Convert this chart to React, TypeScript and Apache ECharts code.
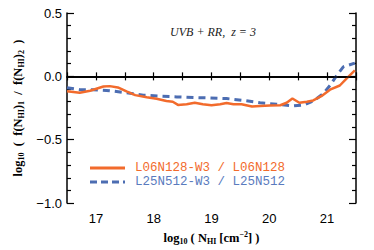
import React, { useEffect, useRef } from "react";
import * as echarts from "echarts";

const orangeX = [16.5, 16.72, 16.9, 17.13, 17.24, 17.38, 17.53, 17.68, 17.88, 18.05, 18.22, 18.33, 18.42, 18.57, 18.71, 18.85, 19.0, 19.15, 19.26, 19.38, 19.52, 19.7, 19.84, 20.01, 20.19, 20.3, 20.4, 20.52, 20.65, 20.76, 20.9, 21.05, 21.22, 21.34, 21.48];
const orangeY = [-0.118, -0.13, -0.113, -0.08, -0.077, -0.087, -0.118, -0.148, -0.164, -0.177, -0.195, -0.2, -0.225, -0.22, -0.208, -0.22, -0.228, -0.22, -0.21, -0.22, -0.22, -0.238, -0.233, -0.23, -0.228, -0.208, -0.175, -0.208, -0.2, -0.19, -0.156, -0.105, -0.072, -0.015, 0.048];

const blueX = [16.5, 16.72, 16.95, 17.24, 17.53, 17.82, 18.11, 18.4, 18.69, 18.97, 19.26, 19.55, 19.84, 20.13, 20.42, 20.6, 20.76, 20.93, 21.05, 21.17, 21.28, 21.48];
const blueY = [-0.09, -0.105, -0.105, -0.113, -0.13, -0.148, -0.156, -0.162, -0.167, -0.17, -0.175, -0.19, -0.208, -0.22, -0.233, -0.225, -0.195, -0.138, -0.072, 0.01, 0.075, 0.105];

const seriesNames = ["L06N128-W3 / L06N128", "L25N512-W3 / L25N512"];
const titleText = "UVB + RR,  z = 3";

const ORANGE = "#F26B2C";
const BLUE = "#4C6DB2";

export default function App() {
  const ref = useRef<HTMLDivElement>(null);
  useEffect(() => {
    if (!ref.current) return;
    const chart = echarts.init(ref.current, undefined, { renderer: "svg" });
    const fmtY = (v: number) => {
      if (Math.abs(v * 2 - Math.round(v * 2)) < 1e-6) {
        return v.toFixed(1).replace("-", "\u2212");
      }
      return "";
    };
    const fmtX = (v: number) =>
      Math.abs(v - Math.round(v)) < 1e-6 ? String(Math.round(v)) : "";
    const sub = { fontSize: 8, fontWeight: "bold", fontFamily: "Liberation Serif", color: "#000", padding: [7, 0, 0, 0] };
    const sup = { fontSize: 8, fontWeight: "bold", fontFamily: "Liberation Serif", color: "#000", padding: [0, 0, 7, 0] };
    const main = { fontSize: 12.5, fontWeight: "bold", fontFamily: "Liberation Serif", color: "#000" };
    const axisLine = { show: true, lineStyle: { color: "#000", width: 1.5 } };
    chart.setOption({
      animation: false,
      grid: { left: 67, right: 18, top: 13, bottom: 41 },
      title: {
        text: titleText,
        left: 208,
        top: 21,
        textAlign: "center",
        textStyle: { fontFamily: "Liberation Serif", fontStyle: "italic", fontWeight: "normal", fontSize: 12, color: "#222" },
      },
      xAxis: [
        {
          type: "value",
          min: 16.5,
          max: 21.5,
          interval: 0.5,
          axisLine,
          axisTick: { show: true, inside: true, length: 4, lineStyle: { color: "#000", width: 1.2 } },
          axisLabel: { formatter: fmtX, fontFamily: "Liberation Sans", fontSize: 13, color: "#000", margin: 9 },
          splitLine: { show: false },
          name: "{a|log}{s|10}{a| ( N}{s|HI}{a| [cm}{p|\u22122}{a|] )}",
          nameLocation: "middle",
          nameGap: 26,
          nameTextStyle: { rich: { a: main, s: sub, p: sup } },
        },
        {
          type: "value",
          position: "top",
          min: 16.5,
          max: 21.5,
          interval: 0.5,
          axisLine,
          axisTick: { show: true, inside: true, length: 4, lineStyle: { color: "#000", width: 1.2 } },
          axisLabel: { show: false },
          splitLine: { show: false },
        },
      ],
      yAxis: [
        {
          type: "value",
          min: -1,
          max: 0.5,
          interval: 0.5,
          axisLine,
          axisTick: { show: true, inside: true, length: 7, lineStyle: { color: "#000", width: 1.2 } },
          minorTick: { show: true, splitNumber: 5, length: 4, lineStyle: { color: "#000", width: 1.2 } },
          axisLabel: { formatter: fmtY, fontFamily: "Liberation Sans", fontSize: 13, color: "#000", margin: 5 },
          splitLine: { show: false },
          name: "{a|log}{s|10}{a|  (  f(N}{s|HI}{a|)}{s|1}{a|  /  f(N}{s|HI}{a|)}{s|2}{a|  )}",
          nameLocation: "middle",
          nameRotate: 90,
          nameGap: 36,
          nameTextStyle: { rich: { a: main, s: sub } },
        },
        {
          type: "value",
          position: "right",
          min: -1,
          max: 0.5,
          interval: 0.5,
          axisLine,
          axisTick: { show: true, inside: true, length: 7, lineStyle: { color: "#000", width: 1.2 } },
          minorTick: { show: true, splitNumber: 5, length: 4, lineStyle: { color: "#000", width: 1.2 } },
          axisLabel: { show: false },
          splitLine: { show: false },
        },
      ],
      series: [
        {
          name: seriesNames[1],
          type: "line",
          symbol: "none",
          data: blueX.map((x, i) => [x, blueY[i]]),
          lineStyle: { color: BLUE, width: 3, type: [7, 5] },
          z: 2,
        },
        {
          name: seriesNames[0],
          type: "line",
          symbol: "none",
          data: orangeX.map((x, i) => [x, orangeY[i]]),
          lineStyle: { color: ORANGE, width: 2.5 },
          z: 3,
          markLine: {
            silent: true,
            symbol: "none",
            label: { show: false },
            lineStyle: { color: "#000", width: 1.5, type: "solid" },
            data: [{ yAxis: 0 }],
          },
        },
      ],
      graphic: [
        { type: "line", shape: { x1: 90, y1: 168, x2: 125, y2: 168 }, style: { stroke: ORANGE, lineWidth: 3 } },
        { type: "text", x: 135, y: 168, style: { text: seriesNames[0], fill: ORANGE, font: "12.5px 'Liberation Mono'", verticalAlign: "middle" } },
        { type: "line", shape: { x1: 90, y1: 182, x2: 125, y2: 182 }, style: { stroke: BLUE, lineWidth: 3, lineDash: [7, 4] } },
        { type: "text", x: 135, y: 182, style: { text: seriesNames[1], fill: "#5A7BBE", font: "12.5px 'Liberation Mono'", verticalAlign: "middle" } },
      ],
    });
    return () => chart.dispose();
  }, []);
  return <div ref={ref} style={{ width: 374, height: 250, position: "absolute", left: 0, top: 0 }} />;
}
